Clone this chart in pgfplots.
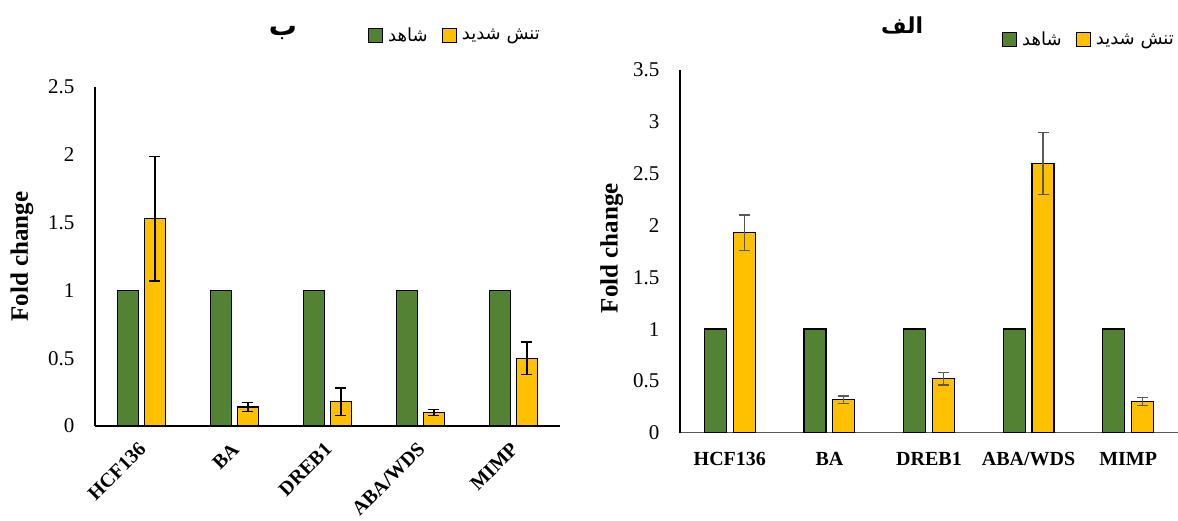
\documentclass[border=0pt]{standalone}
\usepackage{pgfplots}
\usepackage{pgfplotstable}
\pgfplotsset{compat=1.18}
\usepackage{fontspec}
\setmainfont{Liberation Serif}
\newfontfamily\arabicfont[Script=Arabic]{DejaVu Sans}
\TeXXeTstate=1
\definecolor{cgreen}{HTML}{548235}
\definecolor{cyellow}{HTML}{FFC000}
\definecolor{errgray}{HTML}{595959}

\pgfplotstableread{
x ctrl stress err
0 1 1.53 0.46
1 1 0.14 0.035
2 1 0.18 0.10
3 1 0.10 0.02
4 1 0.50 0.12
}\leftdata

\pgfplotstableread{
x ctrl stress err
0 1 1.93 0.17
1 1 0.32 0.035
2 1 0.52 0.06
3 1 2.60 0.30
4 1 0.30 0.04
}\rightdata

\pgfplotsset{
  mybase/.style={
    scale only axis,
    ybar,
    bar width=0.22,
    axis x line*=bottom,
    axis y line*=left,
    x axis line style={-, line width=1.1pt},
    y axis line style={-, line width=1.1pt},
    major tick length=0pt,
    xmin=-0.5, xmax=4.5,
    ymin=0,
    xtick={0,1,2,3,4},
    xticklabels={HCF136,BA,DREB1,ABA/WDS,MIMP},
    /pgf/number format/assume math mode=true,
    yticklabel style={font=\fontsize{21}{23}\selectfont, xshift=-17pt},
    ylabel={Fold change},
    ylabel style={font=\fontsize{25}{27}\selectfont\bfseries, anchor=center},
    clip=false,
    legend columns=2,
    legend image code/.code={\draw[#1, line width=1.2pt] (0pt,-7pt) rectangle (14pt,7pt);},
    legend style={draw=none, fill=none, anchor=west,
      font=\fontsize{18}{21}\selectfont,
      /tikz/every odd column/.append style={column sep=3pt},
      /tikz/every even column/.append style={column sep=12pt}},
  },
}

\begin{document}
\begin{tikzpicture}
\useasboundingbox (0pt,0pt) rectangle (1178pt,520pt);

% Left panel (b)
\begin{axis}[mybase,
  at={(95pt,94pt)}, anchor=south west,
  width=465pt, height=339pt,
  ymax=2.5,
  ytick={0,0.5,1,1.5,2,2.5},
  xticklabel style={font=\fontsize{20}{22}\selectfont\bfseries, yshift=-20pt, xshift=1pt, rotate=45, anchor=east, inner sep=0pt},
  ylabel style={at={(axis description cs:-0.157,0.5)}},
  legend style={at={(axis description cs:0.58,1.153)}},
]
\addplot[fill=cgreen, draw=black, line width=1.2pt, bar shift=-0.145]
  table[x=x, y=ctrl] {\leftdata};
\addlegendentry{\arabicfont\beginR شاهد\endR}
\addplot[fill=cyellow, draw=black, line width=1.2pt, bar shift=0.145,
  error bars/.cd, y dir=both, y explicit,
  error bar style={black, line width=1.2pt},
  error mark options={rotate=90, mark size=5.5pt, line width=1.2pt, black}]
  table[x=x, y=stress, y error=err] {\leftdata};
\addlegendentry{\arabicfont\beginR تنش شدید\endR}
\node[font=\fontsize{28}{30}\selectfont\arabicfont\bfseries] at (axis description cs:0.404,1.159) {\beginR ب\endR};
\end{axis}

% Right panel (alef)
\begin{axis}[mybase,
  at={(680pt,87.3pt)}, anchor=south west,
  width=498pt, height=362.7pt,
  ymax=3.5,
  ytick={0,0.5,1,1.5,2,2.5,3,3.5},
  x axis line style={draw=errgray},
  xticklabel style={font=\fontsize{20}{22}\selectfont\bfseries, anchor=north, yshift=-16pt},
  ylabel style={at={(axis description cs:-0.137,0.509)}},
  legend style={at={(axis description cs:0.64,1.083)}},
]
\addplot[fill=cgreen, draw=black, line width=1.2pt, bar shift=-0.145]
  table[x=x, y=ctrl] {\rightdata};
\addlegendentry{\arabicfont\beginR شاهد\endR}
\addplot[fill=cyellow, draw=black, line width=1.2pt, bar shift=0.145,
  error bars/.cd, y dir=both, y explicit,
  error bar style={errgray, line width=1.2pt},
  error mark options={rotate=90, mark size=5.5pt, line width=1.2pt, errgray}]
  table[x=x, y=stress, y error=err] {\rightdata};
\addlegendentry{\arabicfont\beginR تنش شدید\endR}
\node[font=\fontsize{22}{24}\selectfont\arabicfont\bfseries] at (axis description cs:0.446,1.124) {\beginR الف\endR};
\end{axis}
\end{tikzpicture}
\end{document}
